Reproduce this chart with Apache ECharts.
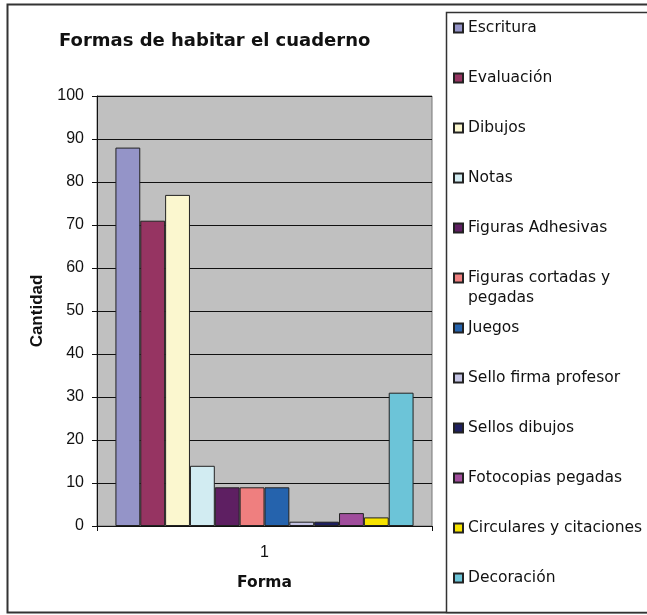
<!DOCTYPE html>
<html>
<head>
<meta charset="utf-8">
<script src="https://cdn.jsdelivr.net/npm/echarts@6/dist/echarts.min.js"></script>
<style>html,body{margin:0;padding:0;background:#fff;}#c{width:647px;height:615px;}</style>
</head>
<body>
<div id="c"></div>
<script>
const categories = ['1'];
const seriesNames = ['Escritura','Evaluación','Dibujos','Notas','Figuras Adhesivas','Figuras cortadas y pegadas','Juegos','Sello firma profesor','Sellos dibujos','Fotocopias pegadas','Circulares y citaciones','Decoración'];
const seriesValues = [88, 71, 77, 14, 9, 9, 9, 1, 1, 3, 2, 31];
const seriesColors = ['#9494c8','#963462','#fbf7cf','#d2ecf2','#5e1f62','#ef7f7f','#2563ad','#c4c4e4','#1f2060','#a04d9c','#f7e300','#6cc4d8'];
const yTicks = [0,10,20,30,40,50,60,70,80,90,100];

const FONT = 'Liberation Sans, Arial, sans-serif';
const WIDE = 'DejaVu Sans, sans-serif';
const chart = echarts.init(document.getElementById('c'), null, {renderer:'canvas'});

const series = seriesNames.map((n,i)=>({
  name:n, type:'bar', data:[seriesValues[i]],
  barGap:'0%', barCategoryGap:'11%',
  itemStyle:{color:seriesColors[i], borderColor:'#222', borderWidth:1},
  emphasis:{disabled:true}
}));

const legends = seriesNames.map((n,i)=>{
  const two = n === 'Figuras cortadas y pegadas';
  const center = 28 + i*50;
  return {
    data:[n], left:453, top: center - (two ? 30 : 10), orient:'vertical',
    icon:'rect', itemWidth:9, itemHeight:9, itemGap:0, padding:0, selectedMode:false,
    formatter: two ? '\nFiguras cortadas y\npegadas' : '{name}',
    textStyle:{fontFamily:WIDE, fontSize:15.5, color:'#111', lineHeight:20}
  };
});

chart.setOption({
  animation:false,
  backgroundColor:'#fff',
  title:{text:'Formas de habitar el cuaderno', left:54, top:27,
    textStyle:{fontFamily:WIDE, fontSize:18, fontWeight:'bold', color:'#111'}},
  legend:legends,
  graphic:[
    {type:'rect', shape:{x:7.5,y:4.5,width:660,height:608}, style:{fill:'none', stroke:'#333', lineWidth:2}, silent:true, z:-1},
    {type:'rect', shape:{x:446.5,y:12.5,width:220,height:600}, style:{fill:'#fff', stroke:'#333', lineWidth:1.5}, silent:true, z:-1}
  ],
  grid:{left:97, top:96, width:335, height:430, show:true, backgroundColor:'#c0c0c0', borderColor:'#777', borderWidth:1},
  xAxis:{type:'category', data:categories,
    name:'Forma', nameLocation:'middle', nameGap:49,
    nameTextStyle:{fontFamily:WIDE, fontSize:15.5, fontWeight:'bold', color:'#111'},
    axisLine:{lineStyle:{color:'#111', width:1}},
    axisTick:{show:true, alignWithLabel:false, length:5, lineStyle:{color:'#111'}},
    axisLabel:{fontFamily:FONT, fontSize:16, color:'#111', margin:19}},
  yAxis:{type:'value', min:0, max:100, interval:10,
    name:'Cantidad', nameLocation:'middle', nameGap:51, nameRotate:90,
    nameTextStyle:{fontFamily:FONT, fontSize:17, fontWeight:'bold', color:'#111'},
    axisLine:{show:true, lineStyle:{color:'#111', width:1}},
    axisTick:{show:true, length:5, lineStyle:{color:'#111'}},
    axisLabel:{fontFamily:FONT, fontSize:16, color:'#111', margin:13,
      formatter:(v)=> yTicks.includes(v) ? String(v) : ''},
    splitLine:{show:true, lineStyle:{color:'#111', width:1}}},
  series:series
});
</script>
</body>
</html>
